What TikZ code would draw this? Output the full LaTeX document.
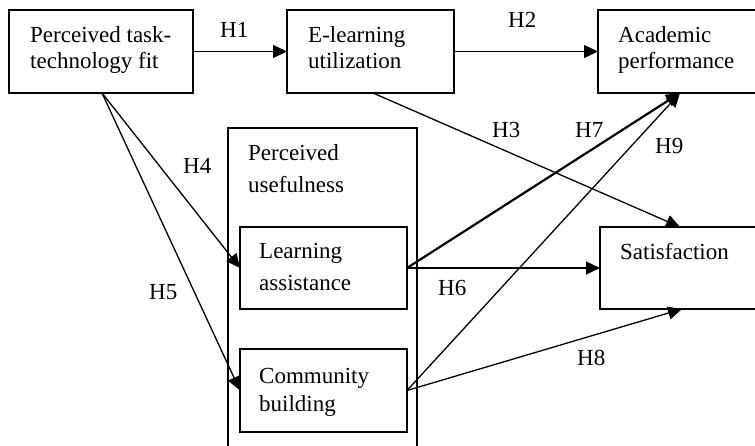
\documentclass[tikz,border=0pt]{standalone}
\usepackage{fontspec}
\setmainfont{Liberation Serif}
\usetikzlibrary{arrows.meta}
\begin{document}
\begin{tikzpicture}[x=1pt,y=-1pt,
  box/.style={draw, line width=1.4pt, rectangle, anchor=north west, inner sep=0pt, outer sep=0pt},
  txt/.style={anchor=north west, inner sep=0pt, align=left, font=\fontsize{23}{26}\selectfont},
  lab/.style={anchor=base west, inner sep=0pt, font=\fontsize{23}{26}\selectfont},
  arr/.style={line width=1.3pt, -{Triangle[length=14pt,width=13pt]}},
  thickarr/.style={line width=2.2pt, -{Triangle[length=14pt,width=13pt]}}]
\path[use as bounding box] (0,0) rectangle (755,445);
\clip (0,0) rectangle (755,445);
% boxes
\node[box, minimum width=184pt, minimum height=83pt] (pttf) at (9,10) {};
\node[box, minimum width=167pt, minimum height=83pt] (el) at (287,10) {};
\node[box, minimum width=200pt, minimum height=83pt] (ap) at (598,10) {};
\node[box, minimum width=189pt, minimum height=360pt] (pu) at (228,128) {};
\node[box, minimum width=167pt, minimum height=82pt] (la) at (240,227) {};
\node[box, minimum width=167pt, minimum height=83pt] (cb) at (240,349) {};
\node[box, minimum width=200pt, minimum height=82pt] (sat) at (600,227) {};
% texts
\node[txt] (tpttf) at (30,24.3) {\strut Perceived task-\\technology fit};
\node[txt] (tel) at (308,24.3) {\strut E-learning\\utilization};
\node[txt] (tap) at (618,23.8) {\strut Academic\\performance};
\node[txt] (tpu) at (248,141.8) {\strut Perceived\\[6pt]usefulness};
\node[txt] (tla) at (259,239.8) {\strut Learning\\[6pt]assistance};
\node[txt] (tcb) at (259,364.8) {\strut Community\\[2pt]building};
\node[txt] (tsat) at (620,240.8) {\strut Satisfaction};
% connectors
\draw[arr] (pttf.east) -- (el.west);
\draw[arr] (el.east) -- (ap.west);
\draw[arr] ([xshift=86pt]el.south west) -- ([xshift=80pt]sat.north west);
\draw[arr] ([xshift=93pt]pttf.south west) -- (la.west);
\draw[arr] ([xshift=93pt]pttf.south west) -- (cb.west);
\draw[thickarr] (la.east) -- ([xshift=82pt]ap.south west);
\draw[arr] (cb.east) -- ([xshift=82pt]ap.south west);
\draw[arr] (la.east) -- (la.east -| sat.west);
\draw[arr] (cb.east) -- ([xshift=82pt]sat.south west);
% labels
\node[lab] (h1) at (220,37) {H1};
\node[lab] (h2) at (508,27) {H2};
\node[lab] (h3) at (492,137) {H3};
\node[lab] (h4) at (183,173) {H4};
\node[lab] (h5) at (149,299) {H5};
\node[lab] (h6) at (438,295) {H6};
\node[lab] (h7) at (575,137) {H7};
\node[lab] (h8) at (577,365) {H8};
\node[lab] (h9) at (655,153) {H9};
\end{tikzpicture}
\end{document}
